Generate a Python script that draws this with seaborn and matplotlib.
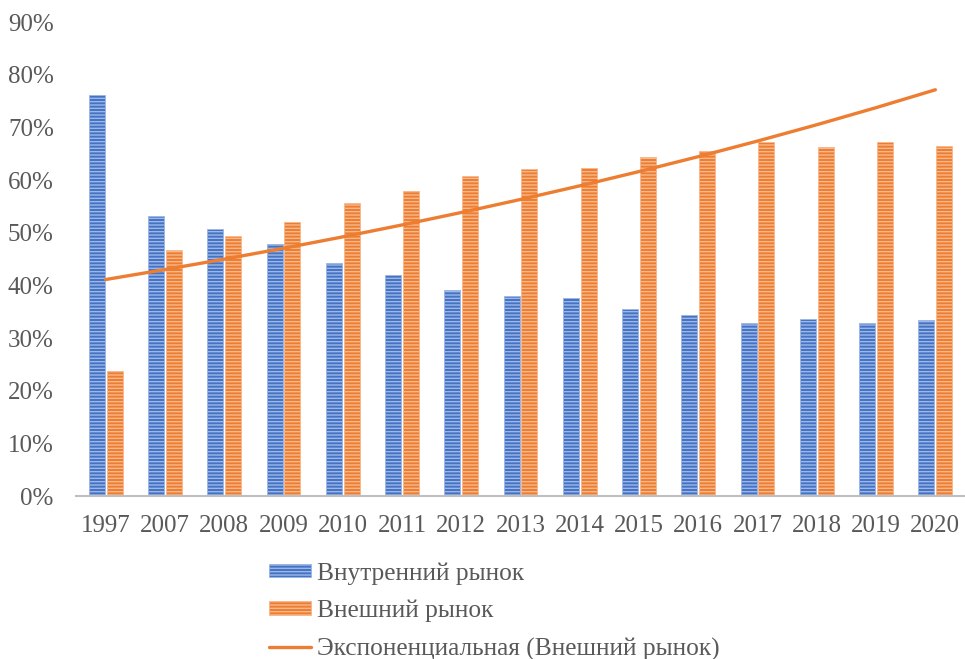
import numpy as np
import pandas as pd
import matplotlib
matplotlib.use("Agg")
import matplotlib.pyplot as plt
import seaborn as sns
from matplotlib.patches import Patch
from matplotlib.lines import Line2D

years = ["1997", "2007", "2008", "2009", "2010", "2011", "2012", "2013",
         "2014", "2015", "2016", "2017", "2018", "2019", "2020"]
domestic = [76.2, 53.1, 50.7, 47.9, 44.2, 42.0, 39.2, 37.9, 37.6, 35.5, 34.3, 32.8, 33.6, 32.8, 33.5]
external = [23.8, 46.8, 49.3, 52.1, 55.6, 57.9, 60.7, 62.0, 62.3, 64.4, 65.6, 67.2, 66.3, 67.2, 66.4]
series_names = ["Внутренний рынок", "Внешний рынок"]
trend_name = "Экспоненциальная (Внешний рынок)"
yticks = [0, 10, 20, 30, 40, 50, 60, 70, 80, 90]

blue, orange = "#4472C4", "#ED7D31"
blue_h, orange_h = "#9DB7E6", "#F7B88C"
text_col = "#595959"

sns.set_theme(style="white")
fam = ["Liberation Serif", "DejaVu Serif"]
plt.rcParams["font.family"] = fam
plt.rcParams["hatch.linewidth"] = 1.0

df = pd.DataFrame({
    "year": years * 2,
    "value": domestic + external,
    "market": [series_names[0]] * len(years) + [series_names[1]] * len(years),
})

fig = plt.figure(figsize=(9.65, 6.59), dpi=100)
ax = fig.add_axes([0.0788, 0.2473, 0.9212, 0.7193])

sns.barplot(data=df, x="year", y="value", hue="market", order=years,
            hue_order=series_names, palette=[blue, orange],
            width=0.6, gap=0.1, ax=ax, legend=False, saturation=1)

n = len(years)
for i, p in enumerate(ax.patches[:2 * n]):
    if i < n:
        p.set_edgecolor(blue_h)
    else:
        p.set_edgecolor(orange_h)
    p.set_hatch("-----")
    p.set_linewidth(0.6)

# exponential trendline (as Excel computes it) on external market
xs = np.arange(1, n + 1)
b, a = np.polyfit(xs, np.log(external), 1)
trend = np.exp(a + b * xs)
sns.lineplot(x=np.arange(n), y=trend, color=orange, linewidth=2.4, ax=ax)

ax.set_ylim(0, 90)
ax.set_xlim(-0.5, n - 0.5)
ax.set_yticks(yticks)
ax.set_yticklabels([f"{t}%" for t in yticks])
ax.set_xlabel("")
ax.set_ylabel("")
for s in ["top", "right", "left"]:
    ax.spines[s].set_visible(False)
ax.spines["bottom"].set_color("#BFBFBF")
ax.spines["bottom"].set_linewidth(1.5)
ax.tick_params(axis="both", length=0, labelsize=18, colors=text_col)
ax.tick_params(axis="y", pad=16)
ax.tick_params(axis="x", pad=14)

handles = [
    Patch(facecolor=blue, edgecolor=blue_h, hatch="-----", linewidth=0.6),
    Patch(facecolor=orange, edgecolor=orange_h, hatch="-----", linewidth=0.6),
    Line2D([0], [0], color=orange, linewidth=2.4),
]
leg = fig.legend(handles, series_names + [trend_name], loc="upper left",
                 bbox_to_anchor=(0.279, 0.147), frameon=False,
                 prop={"family": fam, "size": 18.3},
                 handlelength=1.65, handleheight=0.45, handletextpad=0.22,
                 labelspacing=0.6, borderpad=0, borderaxespad=0)
for t in leg.get_texts():
    t.set_color(text_col)

fig.savefig("out.png", dpi=100)
